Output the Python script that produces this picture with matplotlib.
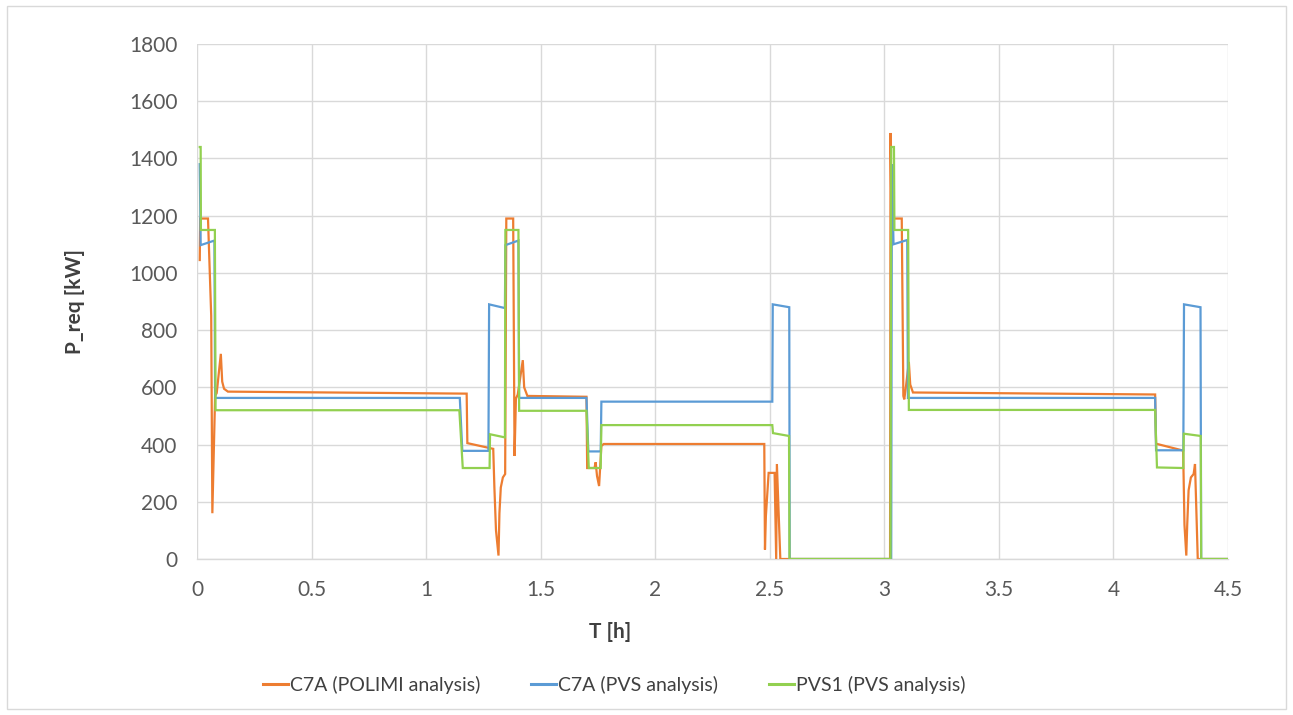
import matplotlib
matplotlib.use("Agg")
import matplotlib.pyplot as plt
from matplotlib.patches import Rectangle

plt.rcParams['font.family'] = ['Lato', 'DejaVu Sans']

# C7A (POLIMI analysis)
t_polimi = [0.012, 0.014, 0.048, 0.062, 0.067, 0.079, 0.086, 0.104, 0.110, 0.118, 0.135,
            1.177, 1.180, 1.293, 1.298, 1.305, 1.316, 1.320, 1.326, 1.335, 1.345,
            1.350, 1.380, 1.386, 1.392, 1.400, 1.422, 1.428, 1.442,
            1.700, 1.703, 1.735, 1.740, 1.746, 1.755, 1.765, 1.775,
            2.476, 2.479, 2.483, 2.495, 2.521, 2.528, 2.531, 2.546,
            3.025, 3.027, 3.031, 3.076, 3.083, 3.087, 3.094, 3.107, 3.113, 3.125,
            4.182, 4.186, 4.304, 4.306, 4.310, 4.318, 4.322, 4.328, 4.338, 4.350,
            4.356, 4.368, 4.500]
p_polimi = [1045, 1190, 1190, 850, 160, 570, 580, 717, 620, 595, 585,
            578, 405, 385, 250, 100, 12, 160, 250, 285, 297,
            1190, 1190, 360, 560, 575, 695, 600, 570,
            567, 318, 318, 338, 290, 255, 395, 402,
            402, 33, 150, 301, 301, 0, 332, 0,
            0, 1489, 1190, 1190, 570, 558, 600, 689, 610, 582,
            575, 403, 379, 300, 120, 12, 120, 240, 285, 297,
            332, 0, 0]

# C7A (PVS analysis)
t_c7a_pvs = [0.012, 0.016, 0.076, 0.079, 1.147, 1.158, 1.272, 1.275, 1.344, 1.346,
             1.403, 1.406, 1.700, 1.708, 1.762, 1.765, 2.511, 2.513, 2.585, 2.587,
             3.030, 3.033, 3.040, 3.100, 3.103, 4.182, 4.186, 4.305, 4.308, 4.380,
             4.383, 4.500]
p_c7a_pvs = [1380, 1097, 1113, 563, 563, 378, 378, 890, 877, 1097,
             1113, 563, 563, 376, 376, 550, 550, 890, 880, 0,
             0, 1380, 1100, 1115, 563, 563, 380, 380, 890, 880,
             0, 0]

# PVS1 (PVS analysis)
t_pvs1 = [0.012, 0.016, 0.017, 0.078, 0.081, 1.145, 1.160, 1.277, 1.279, 1.344,
          1.346, 1.403, 1.406, 1.700, 1.710, 1.762, 1.765, 2.511, 2.514, 2.584,
          2.586, 3.027, 3.030, 3.042, 3.044, 3.104, 3.107, 4.182, 4.190, 4.305,
          4.307, 4.381, 4.383, 4.500]
p_pvs1 = [1440, 1440, 1150, 1150, 520, 520, 318, 318, 436, 425,
          1150, 1150, 518, 518, 318, 318, 468, 468, 440, 430,
          0, 0, 1440, 1440, 1150, 1150, 521, 521, 320, 318,
          438, 430, 0, 0]

series_labels = ["C7A (POLIMI analysis)", "C7A (PVS analysis)", "PVS1 (PVS analysis)"]
series_colors = ["#ED7D31", "#5B9BD5", "#92D050"]
x_ticks = [0, 0.5, 1, 1.5, 2, 2.5, 3, 3.5, 4, 4.5]
x_tick_labels = ["0", "0.5", "1", "1.5", "2", "2.5", "3", "3.5", "4", "4.5"]
y_ticks = [0, 200, 400, 600, 800, 1000, 1200, 1400, 1600, 1800]

W, H = 1293, 715
fig = plt.figure(figsize=(W / 100, H / 100), dpi=100)
ax = fig.add_axes([197 / W, 1 - 559 / H, (1228 - 197) / W, (559 - 44) / H])

series = [(t_polimi, p_polimi), (t_c7a_pvs, p_c7a_pvs), (t_pvs1, p_pvs1)]
for i, ((t, p), lab, col) in enumerate(zip(series, series_labels, series_colors)):
    ax.plot(t, p, color=col, lw=1.6, label=lab, zorder=3 + i,
            solid_joinstyle='miter')

ax.set_xlim(0, 4.5)
ax.set_ylim(0, 1800)
ax.set_xticks(x_ticks)
ax.set_xticklabels(x_tick_labels)
ax.set_yticks(y_ticks)
ax.grid(True, color="#D9D9D9", lw=1.0, zorder=0)
ax.set_axisbelow(True)
for side in ["top", "right", "left"]:
    ax.spines[side].set_visible(False)
ax.spines["bottom"].set_color("#D9D9D9")
ax.spines["bottom"].set_linewidth(1.0)
ax.tick_params(axis="both", length=0, labelsize=15, colors="#595959")
ax.tick_params(axis="y", pad=14)
ax.tick_params(axis="x", pad=15)

fig.text(75 / W, 1 - 301 / H, "P_req [kW]", rotation=90, ha="center", va="center",
         fontsize=15, fontweight="bold", color="#404040")
fig.text(610 / W, 1 - 632 / H, "T [h]", ha="center", va="center",
         fontsize=15, fontweight="bold", color="#404040")

leg = fig.legend(loc="center", bbox_to_anchor=(614 / W, 1 - 685 / H), ncol=3,
                 frameon=False, fontsize=14, handlelength=1.3, handletextpad=0.1,
                 columnspacing=2.6, labelcolor="#404040")
for line in leg.get_lines():
    line.set_linewidth(2.2)

fig.patches.append(Rectangle((7 / W, 6 / H), (W - 14) / W, (H - 12) / H,
                             transform=fig.transFigure, fill=False,
                             edgecolor="#D9D9D9", lw=1.0))

fig.savefig("out.png", dpi=100, facecolor="white")
